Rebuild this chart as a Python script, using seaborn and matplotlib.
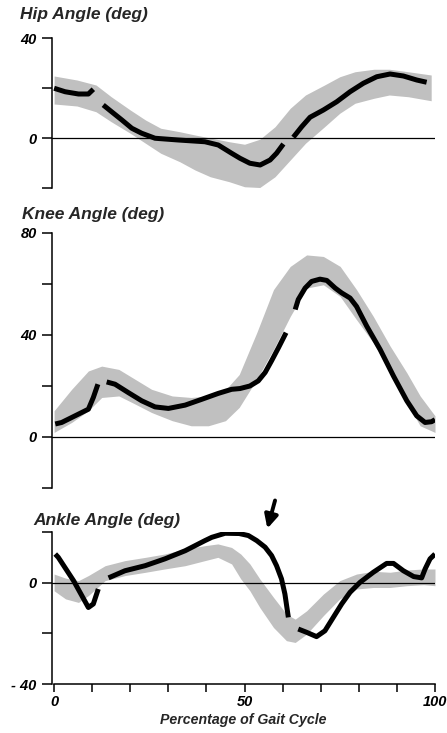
import numpy as np
import pandas as pd
import matplotlib
matplotlib.use("Agg")
import matplotlib.pyplot as plt
import seaborn as sns

# ---------------- data (percent of gait cycle, joint angle in degrees) ----------------
# Patient trace, split into segments (gaps where data are missing)
hip_pct = [0, 2.9, 6.4, 9, 10.3,
           12.9, 15.1, 17.8, 20.4, 23, 26.5, 32.6, 39.6, 43.1, 46.6, 48.8, 51.4, 54.1, 56.7, 58.4, 60.2,
           62.8, 65, 67.2, 70.7, 74.2, 77.7, 81.2, 84.7, 88.2, 91.7, 95.2, 97.8]
hip_deg = [19.9, 18.5, 17.6, 17.6, 19.5,
           13.2, 10.5, 7.2, 3.9, 1.9, -0.1, -0.8, -1.5, -2.8, -6.1, -8.1, -10.1, -10.8, -8.8, -6.1, -2.4,
           0.3, 4.5, 8.3, 11.2, 14.5, 18.5, 21.9, 24.5, 25.6, 24.8, 23.2, 22.3]
hip_seg = [1] * 5 + [2] * 16 + [3] * 12

knee_pct = [0.3, 2, 5.5, 9, 10.3, 11.5,
            13.8, 16, 19.5, 23, 26.5, 30, 34.4, 38.8, 43.1, 46.6, 48.8, 51.4, 53.6, 55.4, 57.1, 58.9, 60.9,
            63.3, 64.1, 65.9, 67.6, 69.8, 71.6, 73.8, 75.5, 77.7, 79.4, 82.1, 85.6, 89.1, 92.6, 95.2,
            97.4, 99.1, 100]
knee_deg = [5.1, 5.7, 8.3, 10.9, 15.5, 20.7,
            21.6, 20.7, 17.4, 14.2, 11.8, 11.2, 12.5, 14.8, 17.1, 18.7, 19.0, 20.0, 22.0, 25.3, 29.9, 35.0, 40.9,
            50.0, 53.9, 58.4, 61.0, 61.9, 61.4, 58.4, 56.5, 54.5, 51.2, 43.4, 34.3, 23.9, 14.2, 8.3,
            5.7, 6.0, 6.8]
knee_seg = [1] * 6 + [2] * 17 + [3] * 18

ankle_pct = [0.3, 1.1, 5.1, 9, 10.3, 11.6,
             14.3, 18.6, 23.9, 29.1, 34.4, 39.6, 41.4, 44.9, 48.6, 51, 53.2, 55.4, 57.1, 58.4, 59.7,
             60.6, 61.5,
             64.1, 66.3, 68.9, 71.1, 73.3, 75.5, 77.7, 80.3, 83.8, 87.3, 89.1, 91.7, 94.4, 96.5,
             97.4, 98.7, 100]
ankle_deg = [11.3, 10.0, 0.8, -9.8, -8.4, -2.5,
             1.9, 4.7, 6.7, 9.4, 12.6, 16.6, 17.9, 19.5, 19.4, 18.6, 16.6, 14.0, 10.7, 6.7, 1.5,
             -4.5, -13.7,
             -18.3, -19.6, -21.3, -19.0, -13.7, -8.4, -3.8, 0.1, 4.1, 7.6, 7.6, 4.7, 2.4, 1.9,
             5.4, 9.4, 11.3]
ankle_seg = [1] * 6 + [2] * 17 + [3] * 17

# Normal range (shaded band)
hip_band_pct = [0, 6, 11, 15, 20, 24, 28, 33, 37, 41, 46, 50, 54, 58, 62, 66, 71, 75, 79, 84, 88, 93, 99]
hip_band_hi = [24.8, 23.2, 21.2, 16.5, 11.2, 7.2, 3.9, 2.5, 1.2, 0.0, -1.5, -2.5, -0.5, 4.5,
               11.9, 17.2, 21.2, 24.5, 26.5, 27.5, 27.5, 26.5, 25.2]
hip_band_lo = [13.6, 12.8, 10.5, 6.5, 1.9, -2.1, -6.1, -9.5, -12.8, -15.5, -17.5, -19.5, -19.8,
               -15.5, -8.8, -2.1, 4.5, 9.9, 13.9, 15.9, 17.2, 16.5, 14.9]

knee_band_pct = [0, 4.6, 9, 12.5, 17, 21.3, 25.6, 31, 36, 40.5, 45, 48.6, 53.2, 57.6, 62, 66.3,
                 70.7, 75.1, 79.4, 83.8, 88.2, 92.6, 96.1, 100]
knee_band_hi = [10.3, 18.7, 25.9, 27.8, 26.5, 22.6, 18.7, 16.1, 15.5, 16.1, 18.5, 24.5, 40.9,
                57.8, 66.9, 71.4, 70.8, 66.9, 57.8, 47.3, 35.7, 25.2, 16.1, 8.3]
knee_band_lo = [1.8, 5.7, 10.3, 15.5, 16.1, 12.9, 9.6, 6.4, 4.4, 4.4, 6.4, 11.6, 22.6, 34.3,
                47.3, 58.4, 59.7, 55.1, 46.0, 37.0, 25.2, 13.5, 4.4, 1.8]

ankle_band_pct = [0, 3, 6.4, 9, 13.4, 18.6, 24, 29, 34.4, 39.6, 43, 46.6, 49, 51.4, 54, 57.6,
                  61, 63.3, 66.3, 70.7, 75, 79.4, 83.8, 88.2, 92.6, 97, 100]
ankle_band_hi = [3.4, 1.8, 0.8, 2.8, 6.7, 8.7, 10.0, 11.3, 13.3, 14.6, 15.3, 13.9, 11.3, 7.4,
                 1.5, -5.8, -12.4, -14.4, -11.1, -4.5, 0.8, 3.4, 4.5, 4.1, 5.0, 5.4, 5.4]
ankle_band_lo = [-3.2, -6.4, -7.8, -5.1, 0.8, 2.8, 4.1, 5.4, 6.7, 8.7, 10.0, 7.4, 1.5, -3.2,
                 -9.8, -17.7, -22.9, -23.6, -20.3, -13.0, -6.4, -2.5, -1.9, -1.9, -1.2, -0.8, -1.2]

titles = ["Hip Angle (deg)", "Knee Angle (deg)", "Ankle Angle (deg)"]
hip_ticks, hip_ticklabels = [-20, 0, 20, 40], ["", "0", "", "40"]
knee_ticks, knee_ticklabels = [-20, 0, 20, 40, 60, 80], ["", "0", "", "40", "", "80"]
ankle_ticks, ankle_ticklabels = [-40, -20, 0, 20], ["- 40", "", "0", ""]
x_ticks = list(range(0, 101, 10))
x_ticklabels = ["0", "", "", "", "", "50", "", "", "", "", "100"]
x_label = "Percentage of Gait Cycle"

# ---------------- styling ----------------
sns.set_theme(style="ticks")
plt.rcParams["font.family"] = ["Liberation Sans", "DejaVu Sans"]
plt.rcParams["font.weight"] = "bold"
plt.rcParams["font.style"] = "italic"

W, H = 447, 733
fig = plt.figure(figsize=(W / 100, H / 100), dpi=100)

def px_axes(left, top, right, bottom):
    return fig.add_axes([left / W, 1 - bottom / H, (right - left) / W, (bottom - top) / H])

band_color = "#c0c0c0"
title_kw = dict(fontsize=12.5, fontweight="bold", fontstyle="italic")
tick_kw = dict(fontsize=10.5, fontweight="bold", fontstyle="italic")

panels = [
    (px_axes(52, 38, 435, 188), hip_pct, hip_deg, hip_seg,
     hip_band_pct, hip_band_hi, hip_band_lo, (-20, 40), hip_ticks, hip_ticklabels),
    (px_axes(52, 233, 435, 488), knee_pct, knee_deg, knee_seg,
     knee_band_pct, knee_band_hi, knee_band_lo, (-20, 80), knee_ticks, knee_ticklabels),
    (px_axes(52, 532, 435, 684), ankle_pct, ankle_deg, ankle_seg,
     ankle_band_pct, ankle_band_hi, ankle_band_lo, (-40, 20), ankle_ticks, ankle_ticklabels),
]

for i, (ax, pct, deg, seg, bx, bhi, blo, ylim, yt, ytl) in enumerate(panels):
    ax.fill_between(bx, blo, bhi, color=band_color, linewidth=0, zorder=1)
    ax.axhline(0, color="black", lw=0.9, zorder=2)
    df = pd.DataFrame({"pct": pct, "deg": deg, "seg": seg})
    sns.lineplot(data=df, x="pct", y="deg", units="seg", estimator=None, sort=False,
                 color="black", lw=3.6, ax=ax, zorder=3,
                 solid_capstyle="butt", solid_joinstyle="round")
    ax.set_xlim(-0.55, 100)
    ax.set_ylim(*ylim)
    ax.set_yticks(yt)
    ax.set_yticklabels(ytl, **tick_kw)
    ax.tick_params(axis="y", length=7, width=1.1, pad=4, colors="black")
    ax.set_xlabel("")
    ax.set_ylabel("")
    for s in ["top", "right"]:
        ax.spines[s].set_visible(False)
    ax.spines["left"].set_linewidth(1.1)
    ax.spines["left"].set_color("black")
    if i < 2:
        ax.spines["bottom"].set_visible(False)
        ax.set_xticks([])
    else:
        ax.spines["bottom"].set_linewidth(1.1)
        ax.spines["bottom"].set_color("black")
        ax.spines["bottom"].set_bounds(0, 100)
        ax.set_xticks(x_ticks)
        ax.set_xticklabels(x_ticklabels, **tick_kw)
        ax.tick_params(axis="x", length=6, width=1.1, pad=2, colors="black")
    ax.set_facecolor("white")

fig.text(20 / W, 1 - 15 / H, titles[0], ha="left", va="center", **title_kw)
fig.text(22 / W, 1 - 215 / H, titles[1], ha="left", va="center", **title_kw)
fig.text(33 / W, 1 - 520 / H, titles[2], ha="left", va="center", **title_kw)
fig.text(243 / W, 1 - 720 / H, x_label, ha="center", va="center",
         fontsize=10.2, fontweight="bold", fontstyle="italic")

# Arrow marking the toe-off event on the ankle trace
ankle_ax = panels[2][0]
ankle_ax.annotate("", xy=(55.8, 20.3), xytext=(58.2, 33.5),
                  arrowprops=dict(arrowstyle="-|>", color="black", lw=2.8, mutation_scale=20),
                  annotation_clip=False)

fig.savefig("out.png", dpi=100, facecolor="white")
